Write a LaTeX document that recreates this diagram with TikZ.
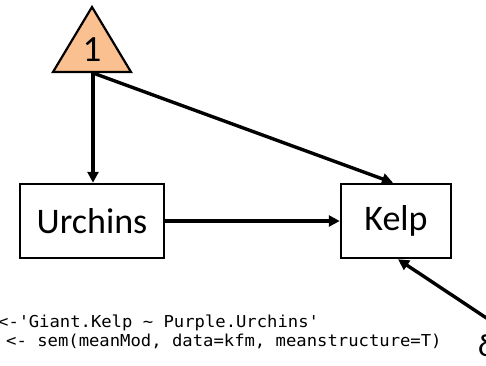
\documentclass[tikz,border=0pt]{standalone}
\usepackage{fontspec}
\setmainfont{Carlito}
\newfontfamily\codefont[FakeStretch=1.05]{DejaVu Sans Mono}
\usetikzlibrary{arrows.meta}
\definecolor{constfill}{HTML}{FAC090}
\begin{document}
\begin{tikzpicture}[x=1pt,y=-1pt,
  varbox/.style={draw, line width=2.5pt, minimum width=#1, minimum height=74pt,
    inner sep=0pt, font=\fontsize{36}{40}\selectfont},
  link/.style={line width=3.4pt, -{Triangle[length=11pt,width=11pt]}},
  codeline/.style={anchor=base west, inner sep=0pt, font=\codefont\fontsize{16.4}{18}\selectfont}]
\useasboundingbox (0,0) rectangle (486,365);

% intercept (constant) triangle
\draw[line width=2.2pt, fill=constfill, line join=miter] (92,7) -- (131,72) -- (53,72) -- cycle;
\node[inner sep=0pt, font=\fontsize{37}{40}\selectfont] (one) at (92,50) {1};
\coordinate (tribase) at (93,73);

% observed variables
\node[varbox=144pt] (urch) at (92,221) {Urchins};
\node[varbox=110pt] (kelp) at (396,221) {Kelp};

% error term
\node[inner sep=0pt, anchor=west, font=\fontsize{32}{36}\selectfont] (err) at (478,346) {δ};
\coordinate (errtail) at (500,327);

% paths
\draw[link] (tribase) -- (urch.north -| tribase);
\draw[link] (tribase) -- ([xshift=-3pt]kelp.north);
\draw[link] (urch.east) -- (kelp.west);
\draw[link] (errtail) -- ([xshift=2pt]kelp.south);

% lavaan code
\node[codeline] (modline) at (-2,327) {<-\textquotesingle Giant.Kelp \textasciitilde{} Purple.Urchins\textquotesingle};
\node[codeline] (fitline) at (6,346) {<- sem(meanMod, data=kfm, meanstructure=T)};
\end{tikzpicture}
\end{document}
